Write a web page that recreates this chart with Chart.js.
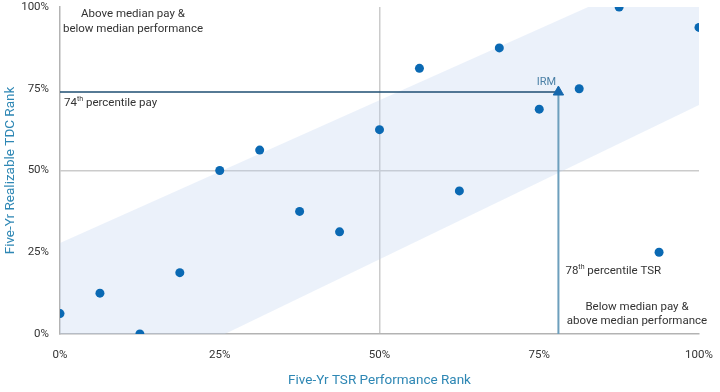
<!DOCTYPE html>
<html>
<head>
<meta charset="utf-8">
<script src="https://cdn.jsdelivr.net/npm/chart.js@4/dist/chart.umd.min.js"></script>
<style>
  html, body { margin: 0; padding: 0; background: #fff; }
  #wrap { width: 720px; height: 392px; }
</style>
</head>
<body>
<div id="wrap"><canvas id="rankChart"></canvas></div>
<script>
// peer group: five-year TSR rank (x) vs realizable TDC rank (y), in percent
const tsrRank = [0, 6.25, 12.5, 18.75, 25, 31.25, 37.5, 43.75, 50, 56.25, 62.5, 68.75, 75, 81.25, 87.5, 93.75, 100];
const tdcRank = [6.25, 12.5, 0, 18.75, 50, 56.25, 37.5, 31.25, 62.5, 81.25, 43.75, 87.5, 68.75, 75, 100, 25, 93.75];

// IRM position
const irmTsr = 78;
const irmPay = 74;

// alignment band edges
const bandUpperX = [0, 83, 100.6];
const bandUpperY = [27.8, 100.3, 100.3];
const bandLowerX = [0, 25.8, 100.6];
const bandLowerY = [0, 0, 70.6];

const tickValues = [0, 25, 50, 75, 100];

const FONT = 'Roboto, "Open Sans", sans-serif';
const TEXT = '#333333';
const AXIS_BLUE = '#2e87b4';

function pts(xs, ys) {
    return xs.map((x, i) => ({ x: x, y: ys[i] }));
}

// superscript-aware text writer
function drawOrdinal(ctx, x, y, num, sup, rest) {
    ctx.font = '11.5px ' + FONT;
    ctx.fillText(num, x, y);
    let w = ctx.measureText(num).width;
    ctx.font = '7px ' + FONT;
    ctx.fillText(sup, x + w, y - 4);
    w += ctx.measureText(sup).width;
    ctx.font = '11.5px ' + FONT;
    ctx.fillText(rest, x + w, y);
}

const notes = {
    id: 'notes',
    afterDatasetsDraw(chart) {
        const { ctx, scales } = chart;
        const xs = scales.x, ys = scales.y;
        const ix = xs.getPixelForValue(irmTsr);
        const iy = ys.getPixelForValue(irmPay);
        ctx.save();
        ctx.fillStyle = TEXT;
        ctx.textBaseline = 'middle';
        ctx.font = '11.5px ' + FONT;
        ctx.textAlign = 'center';
        ctx.fillText('Above median pay &', 133, 14);
        ctx.fillText('below median performance', 133, 29);
        ctx.fillText('Below median pay &', 637, 307);
        ctx.fillText('above median performance', 637, 321);
        ctx.textAlign = 'left';
        drawOrdinal(ctx, xs.left + 4, iy + 11, '74', 'th', ' percentile pay');
        drawOrdinal(ctx, ix + 7, 271, '78', 'th', ' percentile TSR');
        ctx.textAlign = 'center';
        ctx.fillStyle = '#4b80a6';
        ctx.font = '11px ' + FONT;
        ctx.fillText('IRM', ix - 12, iy - 10);
        ctx.restore();
    }
};

const config = {
    type: 'scatter',
    data: {
        datasets: [
            {
                label: 'IRM',
                data: [{ x: irmTsr, y: irmPay }],
                pointStyle: 'triangle',
                pointRadius: 6,
                backgroundColor: '#1668ad',
                borderColor: '#1668ad',
                order: 0
            },
            {
                label: 'Peers',
                data: pts(tsrRank, tdcRank),
                pointRadius: 4.5,
                backgroundColor: '#0a69b3',
                borderColor: '#0a69b3',
                borderWidth: 0,
                order: 1
            },
            {
                label: 'pay line',
                type: 'line',
                data: [{ x: 0, y: irmPay }, { x: irmTsr, y: irmPay }],
                borderColor: '#1e4e72',
                borderWidth: 1.5,
                pointRadius: 0,
                fill: false,
                order: 2
            },
            {
                label: 'tsr line',
                type: 'line',
                data: [{ x: irmTsr, y: irmPay }, { x: irmTsr, y: 0 }],
                borderColor: '#6d9fbd',
                borderWidth: 2,
                pointRadius: 0,
                fill: false,
                order: 3
            },
            {
                label: 'band upper',
                type: 'line',
                data: pts(bandUpperX, bandUpperY),
                borderWidth: 0,
                borderColor: 'rgba(0,0,0,0)',
                pointRadius: 0,
                backgroundColor: 'rgba(190, 210, 240, 0.3)',
                fill: 5,
                clip: 6,
                order: 9
            },
            {
                label: 'band lower',
                type: 'line',
                data: pts(bandLowerX, bandLowerY),
                borderWidth: 0,
                borderColor: 'rgba(0,0,0,0)',
                pointRadius: 0,
                fill: false,
                clip: 6,
                order: 10
            }
        ]
    },
    options: {
        responsive: true,
        maintainAspectRatio: false,
        animation: false,
        layout: { padding: { top: 7, right: 21, left: 0, bottom: 0 } },
        plugins: {
            legend: { display: false },
            tooltip: { enabled: false }
        },
        scales: {
            x: {
                type: 'linear',
                min: 0,
                max: 100,
                afterFit: (scale) => {
                    scale.height = 58;
                    scale.paddingLeft = 0;
                    scale.paddingRight = 0;
                },
                afterBuildTicks: (scale) => { scale.ticks = tickValues.map(v => ({ value: v })); },
                border: { display: true, color: '#b3b3b3', width: 1.5 },
                grid: {
                    drawTicks: false,
                    color: (c) => c.tick && c.tick.value === 50 ? '#cbcbcb' : 'rgba(0,0,0,0)',
                    lineWidth: 1.5
                },
                ticks: {
                    padding: 14,
                    color: TEXT,
                    font: { family: FONT, size: 11.5 },
                    maxRotation: 0,
                    callback: (v) => v + '%'
                },
                title: {
                    display: true,
                    text: 'Five-Yr TSR Performance Rank',
                    color: AXIS_BLUE,
                    font: { family: FONT, size: 13.5 },
                    padding: { top: 0, bottom: 3 }
                }
            },
            y: {
                type: 'linear',
                min: 0,
                max: 100,
                afterFit: (scale) => {
                    scale.width = 60;
                    scale.paddingTop = 0;
                    scale.paddingBottom = 0;
                },
                afterBuildTicks: (scale) => { scale.ticks = tickValues.map(v => ({ value: v })); },
                border: { display: true, color: '#b3b3b3', width: 1.5 },
                grid: {
                    drawTicks: false,
                    color: (c) => c.tick && c.tick.value === 50 ? '#cbcbcb' : 'rgba(0,0,0,0)',
                    lineWidth: 1.5
                },
                ticks: {
                    padding: 11,
                    color: TEXT,
                    font: { family: FONT, size: 11.5 },
                    callback: (v) => v + '%'
                },
                title: {
                    display: true,
                    text: 'Five-Yr Realizable TDC Rank',
                    color: AXIS_BLUE,
                    font: { family: FONT, size: 13.5 },
                    padding: { top: 3, bottom: 0 }
                }
            }
        }
    },
    plugins: [notes]
};

new Chart(document.getElementById('rankChart').getContext('2d'), config);
</script>
</body>
</html>
